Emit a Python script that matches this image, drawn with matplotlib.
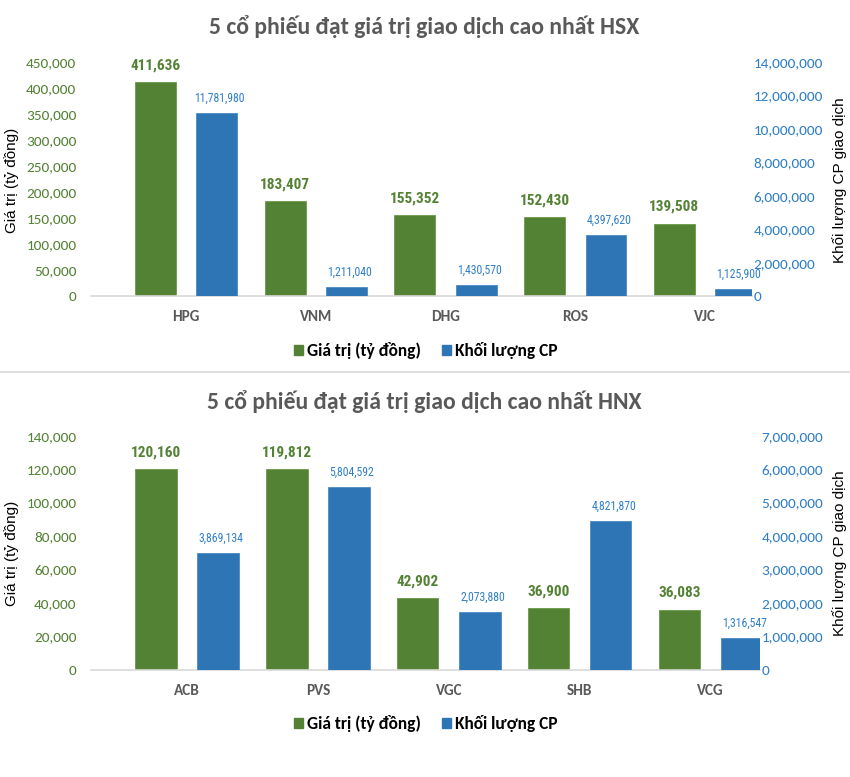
import matplotlib.pyplot as plt
from matplotlib.ticker import FuncFormatter, MultipleLocator
from matplotlib.patches import Patch
from matplotlib.lines import Line2D

# HSX
hsx_tickers = ['HPG', 'VNM', 'DHG', 'ROS', 'VJC']
hsx_value = [411636, 183407, 155352, 152430, 139508]
hsx_volume = [11781980, 1211040, 1430570, 4397620, 1125900]
# chieu cao cot xanh doc tu hinh (khong khop voi nhan so)
hsx_volume_bar = [10950000, 540000, 660000, 3660000, 420000]

# HNX
hnx_tickers = ['ACB', 'PVS', 'VGC', 'SHB', 'VCG']
hnx_value = [120160, 119812, 42902, 36900, 36083]
hnx_volume = [3869134, 5804592, 2073880, 4821870, 1316547]
hnx_volume_bar = [3500000, 5460000, 1720000, 4460000, 965000]

GREEN = '#548235'
BLUE = '#2E75B6'
BLUE_TXT = '#2F7FC8'
GREY = '#595959'
MAIN = ['Carlito', 'Lato', 'DejaVu Sans']
NARROW = ['Roboto Condensed', 'DejaVu Sans']
ARIAL = ['Liberation Sans', 'DejaVu Sans']

plt.rcParams['font.family'] = MAIN

W, H = 850, 777
fig = plt.figure(figsize=(8.5, 7.77), dpi=100)

comma = FuncFormatter(lambda v, p: f'{int(v):,}')


def draw_panel(top_px, left_px, right_px, xlim, title, tickers, value, volume, volume_bar,
               left_max, left_step, right_max, right_step, title_y, legend_y, label_y):
    bottom_px = top_px + 234.3
    ax = fig.add_axes([left_px / W, 1 - bottom_px / H, (right_px - left_px) / W, 234.3 / H])
    ax2 = ax.twinx()
    x = list(range(len(tickers)))
    off = 0.237
    bw = 0.315
    gb = ax.bar([i - off for i in x], value, bw, color=GREEN, edgecolor='#6A9A4A', linewidth=0.6)
    bb = ax2.bar([i + off for i in x], volume_bar, bw, color=BLUE, edgecolor='#4A8AC4', linewidth=0.6)

    ax.set_xlim(*xlim)
    ax.set_ylim(0, left_max)
    ax2.set_ylim(0, right_max)
    ax.yaxis.set_major_locator(MultipleLocator(left_step))
    ax2.yaxis.set_major_locator(MultipleLocator(right_step))
    ax.yaxis.set_major_formatter(comma)
    ax2.yaxis.set_major_formatter(comma)

    for a in (ax, ax2):
        for s in a.spines.values():
            s.set_visible(False)
    ax.spines['bottom'].set_visible(True)
    ax.spines['bottom'].set_color('#D9D9D9')
    ax.spines['bottom'].set_linewidth(1.2)

    ax.tick_params(axis='y', length=0, pad=10.5, labelsize=11, labelcolor=GREEN)
    ax2.tick_params(axis='y', length=0, pad=1, labelsize=11, labelcolor=BLUE_TXT)
    ax.set_xticks(x)
    ax.set_xticklabels(tickers, fontweight='bold', color=GREY, fontsize=11)
    ax.tick_params(axis='x', length=0, pad=10)

    for r, v in zip(gb, value):
        ax.annotate(f'{v:,}', (r.get_x() + r.get_width() / 2, r.get_height()),
                    xytext=(0, 7), textcoords='offset points', ha='center', va='bottom',
                    fontsize=11, fontweight='bold', color=GREEN, family=NARROW)
    for r, v in zip(bb, volume):
        ax2.annotate(f'{v:,}', (r.get_x() + r.get_width() / 2, r.get_height()),
                     xytext=(2, 6), textcoords='offset points', ha='center', va='bottom',
                     fontsize=8.5, color=BLUE_TXT, family=NARROW)

    fig.text(424 / W, 1 - title_y / H, title, ha='center', va='center',
             fontsize=17, fontweight='bold', color=GREY)
    fig.text(12 / W, 1 - label_y / H, 'Giá trị (tỷ đồng)', rotation=90,
             ha='center', va='center', fontsize=11, color='black', family=ARIAL)
    fig.text(840 / W, 1 - label_y / H, 'Khối lượng CP giao dịch', rotation=90,
             ha='center', va='center', fontsize=11, color='black', family=ARIAL)

    handles = [Patch(color=GREEN), Patch(color=BLUE)]
    fig.legend(handles, ['Giá trị (tỷ đồng)', 'Khối lượng CP'], loc='center',
               bbox_to_anchor=(426 / W, 1 - legend_y / H), ncol=2, frameon=False,
               handlelength=0.5, handleheight=0.5, handletextpad=0.25,
               columnspacing=1.2, prop={'weight': 'bold', 'size': 12.5})


draw_panel(62, 91, 752, (-0.733, 4.362), '5 cổ phiếu đạt giá trị giao dịch cao nhất HSX',
           hsx_tickers, hsx_value, hsx_volume, hsx_volume_bar,
           450000, 50000, 14000000, 2000000, 26.7, 350.7, 180)
draw_panel(435.7, 91, 760, (-0.733, 4.376), '5 cổ phiếu đạt giá trị giao dịch cao nhất HNX',
           hnx_tickers, hnx_value, hnx_volume, hnx_volume_bar,
           140000, 20000, 7000000, 1000000, 401.7, 724, 553)

# duong ke phan cach hai bieu do
fig.add_artist(Line2D([0, 1], [1 - 371.5 / H, 1 - 371.5 / H], color='#D9D9D9', linewidth=1.2))

fig.savefig('out.png', dpi=100, facecolor='white')
